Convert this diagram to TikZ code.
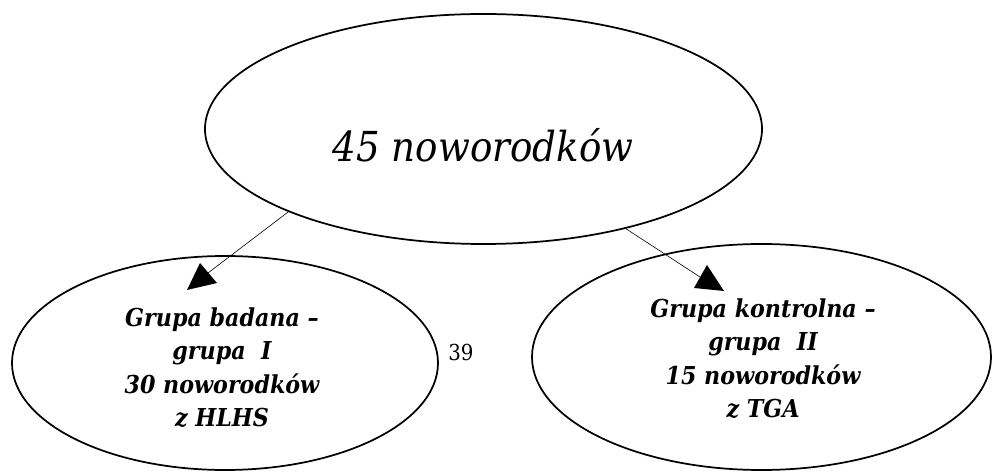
\documentclass[tikz,border=0pt]{standalone}
\usepackage{fontspec}
\setmainfont{DejaVu Serif Condensed}
\usetikzlibrary{shapes.geometric}
\begin{document}
\begin{tikzpicture}[x=0.75pt,y=-0.75pt,
  oval/.style={draw,ellipse,line width=1.3pt,inner sep=0pt},
  link/.style={line width=0.45pt},
  grouptext/.style={align=center,inner sep=0pt,anchor=base,
    font=\fontsize{18.5}{25.2}\selectfont\bfseries\itshape}]
\useasboundingbox (0,0) rectangle (992,473);

% ovals
\node[oval,minimum width=417.75pt,minimum height=172.5pt] (top) at (483.5,129) {};
\node[oval,minimum width=319.5pt,minimum height=160.5pt] (left) at (225,363) {};
\node[oval,minimum width=344.25pt,minimum height=169.5pt] (right) at (761.5,357) {};

% labels
\node[anchor=base,inner sep=0pt,font=\fontsize{31}{40}\selectfont\itshape] (topT) at (483,162) {45 noworodków};
\node[grouptext] (leftT) at (222,427) {Grupa badana --\\grupa\ \ I\\30 noworodków\\z HLHS};
\node[grouptext] (rightT) at (763,418) {Grupa kontrolna --\\grupa\ \ II\\15 noworodków\\z TGA};
\node[anchor=base west,inner sep=0pt,font=\fontsize{16.5}{20}\selectfont] (pageno) at (448,361) {39};

% connectors with triangular heads
\coordinate (endL) at (208,273);
\coordinate (endR) at (700,277);
\draw[link] (top.203) -- (endL);
\draw[link] (top.-35.6) -- (endR);
\fill[shift={(endL)}] (-8,-10) -- (-21,17) -- (9,10) -- cycle;
\fill[shift={(endR)}] (7,-12) -- (-6,11) -- (24,14) -- cycle;
\end{tikzpicture}
\end{document}
